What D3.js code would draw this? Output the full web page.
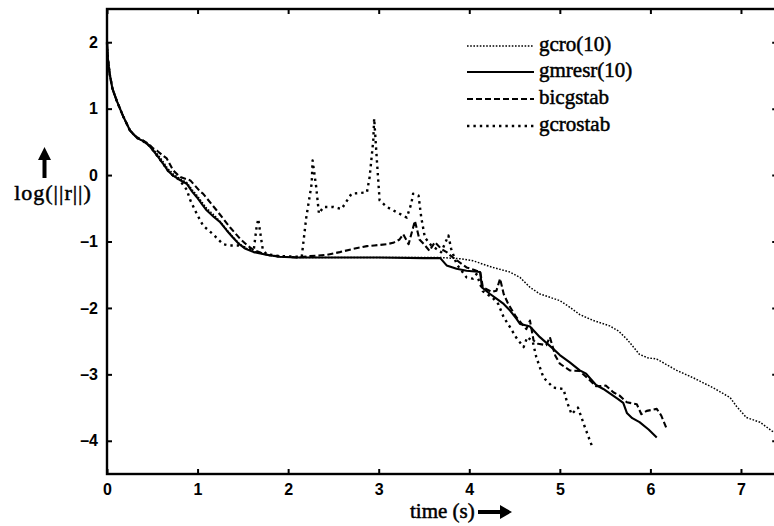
<!DOCTYPE html>
<html>
<head>
<meta charset="utf-8">
<script src="https://cdn.jsdelivr.net/npm/d3@7"></script>
<style>
  html, body { margin: 0; padding: 0; background: #fff; }
  svg { display: block; }
</style>
</head>
<body>
<div id="chart"></div>
<script>
// ---------------- data ----------------
const xTicks = [0, 1, 2, 3, 4, 5, 6, 7];
const yTicks = [-4, -3, -2, -1, 0, 1, 2];
const seriesNames = ["gcro(10)", "gmresr(10)", "bicgstab", "gcrostab"];

const gmresrT = [0, 0.01, 0.03, 0.06, 0.107, 0.18, 0.254, 0.33, 0.40, 0.46, 0.51, 0.56, 0.62, 0.67, 0.73, 0.80, 0.88, 0.94, 0.99, 1.05, 1.10, 1.18, 1.25, 1.32, 1.39, 1.46, 1.53, 1.62, 1.76, 1.90, 2.09, 2.5, 3.0, 3.5, 3.68, 3.75, 3.86, 3.97, 4.12, 4.14, 4.23, 4.30, 4.38, 4.45, 4.52, 4.56, 4.62, 4.67, 4.78, 4.93, 5.00, 5.11, 5.22, 5.29, 5.40, 5.48, 5.64, 5.70, 5.74, 5.80, 5.88, 5.98, 6.07];
const gmresrV = [2.0, 1.75, 1.52, 1.3, 1.12, 0.88, 0.67, 0.56, 0.51, 0.45, 0.37, 0.28, 0.17, 0.07, -0.01, -0.07, -0.13, -0.25, -0.33, -0.44, -0.53, -0.63, -0.71, -0.83, -0.94, -1.04, -1.11, -1.16, -1.20, -1.23, -1.24, -1.24, -1.24, -1.25, -1.25, -1.36, -1.41, -1.44, -1.46, -1.69, -1.79, -1.86, -1.94, -2.04, -2.16, -2.24, -2.26, -2.28, -2.44, -2.62, -2.71, -2.82, -2.94, -2.99, -3.16, -3.22, -3.37, -3.43, -3.58, -3.66, -3.72, -3.83, -3.95];

const bicgT = [0, 0.01, 0.03, 0.06, 0.107, 0.18, 0.254, 0.33, 0.40, 0.46, 0.51, 0.55, 0.62, 0.66, 0.73, 0.81, 0.92, 1.03, 1.06, 1.21, 1.36, 1.47, 1.55, 1.62, 1.70, 1.80, 1.95, 2.10, 2.24, 2.43, 2.57, 2.72, 2.87, 2.95, 3.09, 3.16, 3.23, 3.27, 3.33, 3.40, 3.45, 3.50, 3.56, 3.62, 3.69, 3.75, 3.79, 3.86, 3.97, 4.08, 4.12, 4.15, 4.25, 4.30, 4.34, 4.38, 4.43, 4.52, 4.63, 4.67, 4.71, 4.76, 4.85, 4.89, 4.95, 5.00, 5.11, 5.22, 5.30, 5.40, 5.51, 5.59, 5.66, 5.74, 5.85, 5.90, 5.96, 6.07, 6.12, 6.18];
const bicgV = [2.0, 1.75, 1.52, 1.3, 1.12, 0.88, 0.67, 0.57, 0.52, 0.47, 0.40, 0.37, 0.29, 0.25, 0.07, -0.03, -0.08, -0.25, -0.28, -0.53, -0.79, -0.96, -1.06, -1.13, -1.17, -1.21, -1.23, -1.24, -1.22, -1.20, -1.16, -1.11, -1.07, -1.06, -1.04, -1.02, -0.97, -0.89, -1.04, -0.69, -0.97, -1.04, -1.14, -1.01, -1.11, -1.16, -1.21, -1.28, -1.39, -1.44, -1.45, -1.69, -1.76, -1.74, -1.56, -1.79, -1.94, -2.14, -2.32, -2.19, -2.49, -2.54, -2.56, -2.44, -2.72, -2.84, -2.94, -2.95, -3.05, -3.18, -3.17, -3.27, -3.32, -3.42, -3.45, -3.60, -3.55, -3.52, -3.62, -3.82];

const gcrostabT = [0, 0.01, 0.03, 0.06, 0.107, 0.18, 0.254, 0.33, 0.40, 0.46, 0.51, 0.56, 0.62, 0.67, 0.73, 0.80, 0.88, 0.92, 0.99, 1.06, 1.17, 1.28, 1.35, 1.45, 1.55, 1.62, 1.65, 1.67, 1.69, 1.72, 1.76, 1.90, 2.15, 2.20, 2.26, 2.27, 2.31, 2.34, 2.39, 2.50, 2.59, 2.70, 2.87, 2.90, 2.94, 2.95, 2.98, 3.01, 3.09, 3.20, 3.31, 3.36, 3.38, 3.44, 3.47, 3.51, 3.58, 3.69, 3.77, 3.80, 3.86, 3.97, 4.04, 4.08, 4.15, 4.26, 4.32, 4.38, 4.45, 4.52, 4.60, 4.64, 4.70, 4.74, 4.82, 4.93, 5.04, 5.08, 5.13, 5.20, 5.27, 5.36];
const gcrostabV = [2.0, 1.75, 1.52, 1.3, 1.12, 0.88, 0.67, 0.56, 0.51, 0.45, 0.37, 0.28, 0.17, 0.07, -0.01, -0.07, -0.22, -0.38, -0.58, -0.76, -0.89, -1.04, -1.06, -1.06, -1.10, -1.13, -0.80, -0.66, -0.85, -1.12, -1.19, -1.22, -1.23, -0.64, -0.13, 0.22, -0.18, -0.58, -0.48, -0.48, -0.51, -0.28, -0.26, -0.03, 0.52, 0.85, 0.22, -0.38, -0.48, -0.56, -0.64, -0.43, -0.28, -0.31, -0.64, -0.94, -1.06, -1.16, -0.91, -1.11, -1.34, -1.54, -1.56, -1.49, -1.75, -1.85, -1.94, -2.14, -2.29, -2.45, -2.59, -2.44, -2.50, -2.74, -3.05, -3.20, -3.22, -3.42, -3.60, -3.50, -3.77, -4.10];

const gcroT = [0, 0.01, 0.03, 0.06, 0.107, 0.18, 0.254, 0.33, 0.40, 0.46, 0.51, 0.56, 0.62, 0.67, 0.73, 0.80, 0.88, 0.94, 0.99, 1.05, 1.10, 1.18, 1.25, 1.32, 1.39, 1.46, 1.53, 1.62, 1.76, 1.90, 2.09, 2.5, 3.0, 3.5, 3.68, 3.90, 4.04, 4.26, 4.45, 4.56, 4.67, 4.78, 4.89, 5.00, 5.10, 5.22, 5.37, 5.55, 5.65, 5.74, 5.88, 5.97, 6.07, 6.29, 6.47, 6.69, 6.88, 6.95, 7.06, 7.21, 7.34, 7.40];
const gcroV = [2.0, 1.75, 1.52, 1.3, 1.12, 0.88, 0.67, 0.56, 0.51, 0.46, 0.39, 0.31, 0.20, 0.10, 0.02, -0.05, -0.11, -0.22, -0.30, -0.41, -0.50, -0.60, -0.70, -0.82, -0.93, -1.03, -1.10, -1.15, -1.20, -1.23, -1.24, -1.24, -1.24, -1.24, -1.24, -1.26, -1.29, -1.39, -1.46, -1.54, -1.69, -1.79, -1.84, -1.89, -1.98, -2.10, -2.19, -2.27, -2.35, -2.47, -2.70, -2.75, -2.77, -2.94, -3.05, -3.20, -3.35, -3.48, -3.65, -3.72, -3.85, -3.90];

// ---------------- drawing ----------------
const W = 774, H = 526;
const svg = d3.select("#chart").append("svg").attr("width", W).attr("height", H);

const x = d3.scaleLinear().domain([0, 7.4]).range([107, 777.2]);
const y = d3.scaleLinear().domain([-4.5, 2.5]).range([474, 9]);

svg.append("rect")
  .attr("x", x(0)).attr("y", y(2.5))
  .attr("width", x(7.4) - x(0)).attr("height", y(-4.5) - y(2.5))
  .attr("fill", "none").attr("stroke", "#000").attr("stroke-width", 2.4);

const tickFont = "bold 16px 'Liberation Sans', Arial, sans-serif";

const gx = svg.append("g").attr("transform", `translate(0,${y(-4.5)})`)
  .call(d3.axisBottom(x).tickValues(xTicks).tickSize(-5).tickPadding(10).tickFormat(d3.format("d")));
const gxt = svg.append("g").attr("transform", `translate(0,${y(2.5)})`)
  .call(d3.axisTop(x).tickValues(xTicks).tickSize(-5).tickFormat(""));
const gy = svg.append("g").attr("transform", `translate(${x(0)},0)`)
  .call(d3.axisLeft(y).tickValues(yTicks).tickSize(-5).tickPadding(9).tickFormat(d => d < 0 ? "\u2013" + Math.abs(d) : String(d)));
const gyr = svg.append("g").attr("transform", `translate(${x(7.4)},0)`)
  .call(d3.axisRight(y).tickValues(yTicks).tickSize(-5).tickFormat(""));

[gx, gxt, gy, gyr].forEach(g => {
  g.select(".domain").remove();
  g.selectAll(".tick line").attr("stroke", "#000").attr("stroke-width", 2);
  g.selectAll(".tick text").style("font", tickFont).attr("fill", "#000");
});

const mk = (T, V) => T.map((t, i) => [t, V[i]]);
const line = d3.line().x(d => x(d[0])).y(d => y(d[1]));

const styles = [
  { name: seriesNames[0], data: mk(gcroT, gcroV), w: 1.5, dash: "1.6,1.6" },
  { name: seriesNames[1], data: mk(gmresrT, gmresrV), w: 2.1, dash: null },
  { name: seriesNames[2], data: mk(bicgT, bicgV), w: 2.1, dash: "6,3" },
  { name: seriesNames[3], data: mk(gcrostabT, gcrostabV), w: 2.4, dash: "2.4,4" }
];

const plot = svg.append("g");
styles.forEach(s => {
  plot.append("path")
    .datum(s.data)
    .attr("d", line)
    .attr("fill", "none")
    .attr("stroke", "#000")
    .attr("stroke-width", s.w)
    .attr("stroke-linejoin", "round")
    .attr("stroke-dasharray", s.dash);
});

const serif = "'Liberation Serif', 'Times New Roman', serif";
const legend = svg.append("g");
const legendRows = [51, 77, 104, 131];
styles.forEach((s, i) => {
  const by = legendRows[i];
  legend.append("line")
    .attr("x1", 467).attr("x2", 534)
    .attr("y1", by - 5).attr("y2", by - 5)
    .attr("stroke", "#000")
    .attr("stroke-width", s.w)
    .attr("stroke-dasharray", s.dash);
  legend.append("text")
    .attr("x", 539).attr("y", by)
    .style("font", `21px ${serif}`)
    .attr("stroke", "#000").attr("stroke-width", 0.5)
    .text(s.name);
});

svg.append("text")
  .attr("x", 410).attr("y", 518)
  .style("font", `21px ${serif}`)
  .attr("stroke", "#000").attr("stroke-width", 0.5)
  .text("time (s)");
svg.append("path")
  .attr("d", "M478,510 L500,510 L500,505 L512,512 L500,519 L500,514 L478,514 Z")
  .attr("fill", "#000");

svg.append("text")
  .attr("x", 53).attr("y", 200)
  .attr("text-anchor", "middle")
  .style("font", `22px ${serif}`)
  .style("letter-spacing", "1px")
  .attr("stroke", "#000").attr("stroke-width", 0.5)
  .text("log(||r||)");
svg.append("path")
  .attr("d", "M42.5,178 L42.5,160 L38,160 L44.5,147 L51,160 L46.5,160 L46.5,178 Z")
  .attr("fill", "#000");
</script>
</body>
</html>
